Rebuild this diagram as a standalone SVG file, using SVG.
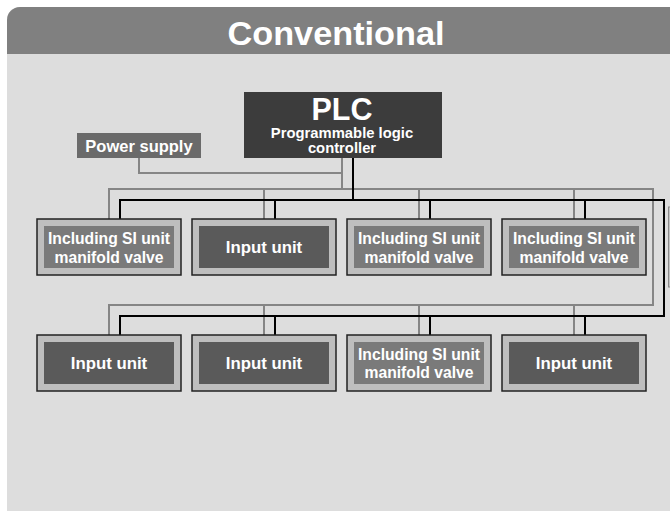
<svg xmlns="http://www.w3.org/2000/svg" width="670" height="511" viewBox="0 0 670 511">
<style>
text{font-family:"Liberation Sans",Arial,sans-serif;font-weight:bold;fill:#fff;text-anchor:middle}
.outer{fill:#bebebe;stroke:#222;stroke-width:1.5}
.si{fill:#7a7a7a}
.inp{fill:#5a5a5a}
.g{fill:none;stroke:#858585;stroke-width:2}
.k{fill:none;stroke:#000;stroke-width:2}
.t16{font-size:15.7px}
.t17{font-size:16.8px}
</style>
<defs>
<clipPath id="panelclip"><rect x="7" y="7" width="700" height="520" rx="13"/></clipPath>
</defs>
<g id="panel" clip-path="url(#panelclip)">
<rect x="7" y="7" width="700" height="520" fill="#dddddd"/>
<rect x="7" y="7" width="700" height="47" fill="#808080"/>
</g>
<text x="336" y="45" font-size="34" textLength="217" lengthAdjust="spacingAndGlyphs">Conventional</text>
<g id="connectors">
<path class="g" d="M139,158 V173 H342"/>
<path class="g" d="M342,158 V189"/>
<path class="g" d="M109,219 V189 H653 V305 H109 V335"/>
<path class="g" d="M264,189 V219 M419,189 V219 M574,189 V219 M264,305 V335 M419,305 V335 M574,305 V335"/>
<path class="k" d="M353,158 V200"/>
<path class="k" d="M120,219 V200 H664 V316 H120 V335"/>
<path class="k" d="M275,200 V219 M430,200 V219 M585,200 V219 M275,316 V335 M430,316 V335 M585,316 V335"/>
</g>
<g id="plc">
<rect x="244" y="92" width="198" height="66" fill="#3c3c3c"/>
<text x="342" y="120" font-size="30.5">PLC</text>
<text x="342" y="138" font-size="14.8">Programmable logic</text>
<text x="342" y="153" font-size="14.8">controller</text>
</g>
<g id="power">
<rect x="77" y="133" width="124" height="25" fill="#6a6a6a"/>
<text x="139" y="152" font-size="16.5">Power supply</text>
</g>
<g id="r1n1">
<rect class="outer" x="37" y="219" width="144" height="56"/>
<rect class="si" x="44" y="226" width="130" height="42"/>
<text class="t16" x="109" y="244">Including SI unit</text>
<text class="t16" x="109" y="262.5">manifold valve</text>
</g>
<g id="r1n2">
<rect class="outer" x="192" y="219" width="144" height="56"/>
<rect class="inp" x="199" y="226" width="130" height="42"/>
<text class="t17" x="264" y="253">Input unit</text>
</g>
<g id="r1n3">
<rect class="outer" x="347" y="219" width="144" height="56"/>
<rect class="si" x="354" y="226" width="130" height="42"/>
<text class="t16" x="419" y="244">Including SI unit</text>
<text class="t16" x="419" y="262.5">manifold valve</text>
</g>
<g id="r1n4">
<rect class="outer" x="502" y="219" width="144" height="56"/>
<rect class="si" x="509" y="226" width="130" height="42"/>
<text class="t16" x="574" y="244">Including SI unit</text>
<text class="t16" x="574" y="262.5">manifold valve</text>
</g>
<g id="r2n1">
<rect class="outer" x="37" y="335" width="144" height="56"/>
<rect class="inp" x="44" y="342" width="130" height="42"/>
<text class="t17" x="109" y="368.5">Input unit</text>
</g>
<g id="r2n2">
<rect class="outer" x="192" y="335" width="144" height="56"/>
<rect class="inp" x="199" y="342" width="130" height="42"/>
<text class="t17" x="264" y="368.5">Input unit</text>
</g>
<g id="r2n3">
<rect class="outer" x="347" y="335" width="144" height="56"/>
<rect class="si" x="354" y="342" width="130" height="42"/>
<text class="t16" x="419" y="359.5">Including SI unit</text>
<text class="t16" x="419" y="378">manifold valve</text>
</g>
<g id="r2n4">
<rect class="outer" x="502" y="335" width="144" height="56"/>
<rect class="inp" x="509" y="342" width="130" height="42"/>
<text class="t17" x="574" y="368.5">Input unit</text>
</g>
<g id="edge">
<rect x="668.5" y="207" width="5" height="80" fill="#c4c4c4" stroke="#8a8a8a" stroke-width="1"/>
</g>
</svg>
